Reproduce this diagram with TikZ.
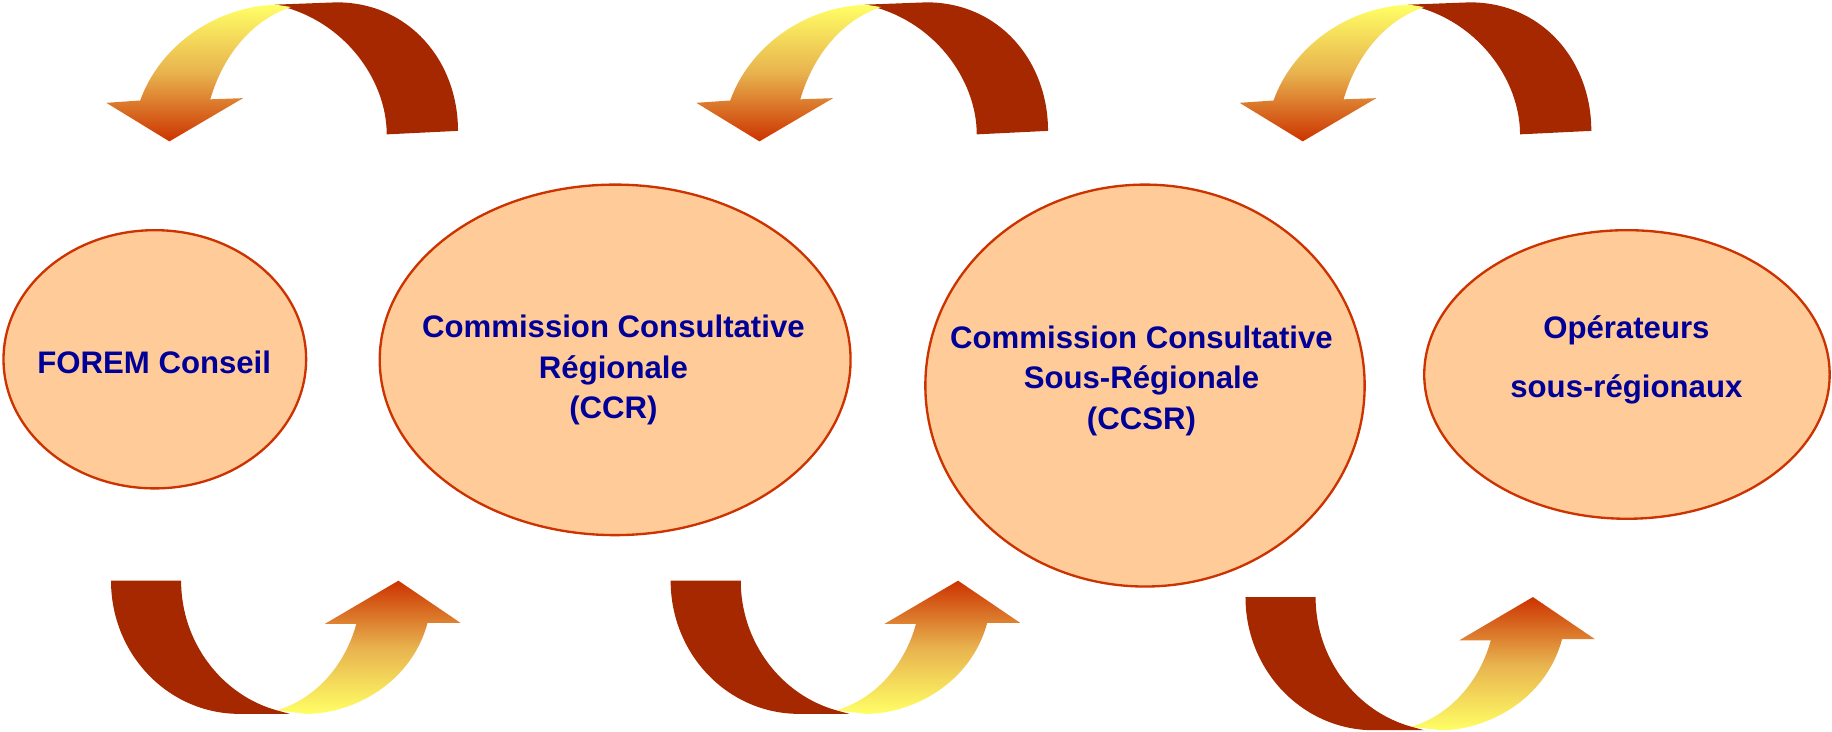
\documentclass[tikz,border=0pt]{standalone}
\usepackage{fontspec}
\setmainfont{Liberation Sans}
\usepackage{xcolor}
\usepackage{tikz}
\usetikzlibrary{shapes.geometric}

\definecolor{arrowRed}{RGB}{165,40,0}
\definecolor{shadeTop}{RGB}{255,255,102}
\definecolor{shadeMid}{RGB}{232,178,78}
\definecolor{shadeTip}{RGB}{204,51,0}
\definecolor{bubbleFill}{RGB}{255,204,153}
\definecolor{bubbleLine}{RGB}{204,51,0}
\definecolor{labelBlue}{RGB}{0,0,153}

\begin{document}
\begin{tikzpicture}[x=0.75pt,y=0.75pt,yscale=-1,xscale=1,
  bubble/.style={ellipse,draw=bubbleLine,line width=1.5pt,fill=bubbleFill,inner sep=0pt},
  lbl/.style={align=center,text=labelBlue,font=\fontsize{20}{26}\selectfont\bfseries,inner sep=0.75pt},
  redarrow/.style={fill=arrowRed},
  downarrow/.style={top color=shadeTop,bottom color=shadeTip,middle color=shadeMid},
  uparrow/.style={top color=shadeTip,bottom color=shadeTop,middle color=shadeMid}]
%set diagram left start at 0, and has height of 626
\useasboundingbox (0,0) rectangle (1568,626);

%Shape: Ellipse
\node[bubble,minimum width=194.25pt,minimum height=165.75pt] (forem) at (132.5,307.5) {};
%Shape: Ellipse
\node[bubble,minimum width=302.25pt,minimum height=225pt] (ccr) at (526.5,308) {};
%Shape: Ellipse
\node[bubble,minimum width=282pt,minimum height=258pt] (ccsr) at (980,330) {};
%Shape: Ellipse
\node[bubble,minimum width=260.25pt,minimum height=185.25pt] (oper) at (1392.5,320.5) {};

%Curved Arrows (top)
\fill[redarrow] (235,4) -- (288,2) .. controls (350,2) and (392,52) .. (392,112) -- (331,115) .. controls (331,68) and (294,16) .. (235,4) -- cycle ;
\shade[downarrow] (236,4) .. controls (182,6) and (136,41) .. (120,86) -- (91,88) -- (145,121) -- (208,84) -- (180,85) .. controls (191,47) and (216,17) .. (249,6) -- cycle ;
\fill[redarrow] (740,4) -- (793,2) .. controls (855,2) and (897,52) .. (897,112) -- (836,115) .. controls (836,68) and (799,16) .. (740,4) -- cycle ;
\shade[downarrow] (741,4) .. controls (687,6) and (641,41) .. (625,86) -- (596,88) -- (650,121) -- (713,84) -- (685,85) .. controls (696,47) and (721,17) .. (754,6) -- cycle ;
\fill[redarrow] (1205,4) -- (1258,2) .. controls (1320,2) and (1362,52) .. (1362,112) -- (1301,115) .. controls (1301,68) and (1264,16) .. (1205,4) -- cycle ;
\shade[downarrow] (1206,4) .. controls (1152,6) and (1106,41) .. (1090,86) -- (1061,88) -- (1115,121) -- (1178,84) -- (1150,85) .. controls (1161,47) and (1186,17) .. (1219,6) -- cycle ;

%Curved Arrows (bottom)
\shade[uparrow] (237,608) .. controls (270,598) and (295,570) .. (305,534) -- (278,534) -- (341,497) -- (394,533) -- (366,533) .. controls (352,585) and (302,611) .. (262,611) -- cycle ;
\fill[redarrow] (95,497) -- (155,497) .. controls (155,550) and (190,595) .. (237,608) -- (248,611) -- (205,611) .. controls (144,611) and (95,560) .. (95,497) -- cycle ;
\shade[uparrow] (716,608) .. controls (749,598) and (774,570) .. (784,534) -- (757,534) -- (820,497) -- (873,533) -- (845,533) .. controls (831,585) and (781,611) .. (741,611) -- cycle ;
\fill[redarrow] (574,497) -- (634,497) .. controls (634,550) and (669,595) .. (716,608) -- (727,611) -- (684,611) .. controls (623,611) and (574,560) .. (574,497) -- cycle ;
\shade[uparrow] (1208,622) .. controls (1241,612) and (1266,584) .. (1276,548) -- (1249,548) -- (1312,511) -- (1365,547) -- (1337,547) .. controls (1323,599) and (1273,625) .. (1233,625) -- cycle ;
\fill[redarrow] (1066,511) -- (1126,511) .. controls (1126,564) and (1161,609) .. (1208,622) -- (1219,625) -- (1176,625) .. controls (1115,625) and (1066,574) .. (1066,511) -- cycle ;

% Text Node
\node[lbl] (forem-lbl) at (132,310) {FOREM Conseil};
% Text Node
\node[lbl] (ccr-lbl) at (525,317) {Commission Consultative\\Régionale\\(CCR)};
% Text Node
\node[lbl] (ccsr-lbl) at (977,326) {Commission Consultative\\Sous-Régionale\\(CCSR)};
% Text Node
\node[lbl] (oper-lbl) at (1392,308) {Opérateurs\\[11.5pt]sous-régionaux};

\end{tikzpicture}
\end{document}
